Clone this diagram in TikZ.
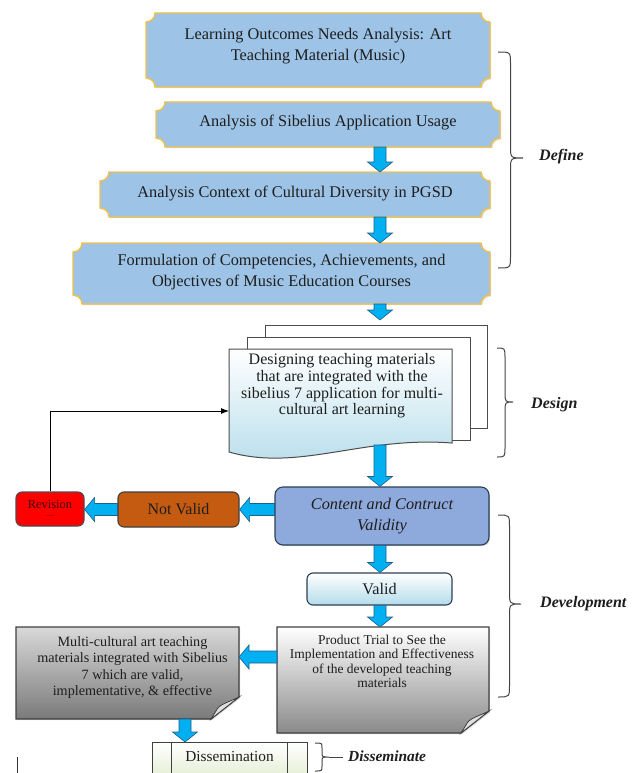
\documentclass[tikz,border=0pt]{standalone}
\usepackage{fontspec}
\setmainfont{Liberation Serif}
\usetikzlibrary{calc,backgrounds,shadows,arrows.meta}

\definecolor{defblue}{HTML}{9DC3E6}
\definecolor{defgold}{HTML}{F3C146}
\definecolor{arrblue}{HTML}{00B0F0}
\definecolor{arredge}{HTML}{1F5F8B}
\definecolor{cvblue}{HTML}{8EA9DB}
\definecolor{cvedge}{HTML}{2E3F55}
\definecolor{nvbrown}{HTML}{C55A11}
\definecolor{revred}{HTML}{FF0000}
\definecolor{lightcyan}{HTML}{B4DCEA}
\definecolor{docgray}{HTML}{8A8A8A}
\definecolor{docgrayB}{HTML}{7A7A7A}
\definecolor{dgreen}{HTML}{D3E3B8}
\definecolor{txt}{HTML}{1E1E1E}
\definecolor{bracegray}{HTML}{454545}

\tikzset{
  sized/.style 2 args={minimum width=#1pt, minimum height=#2pt, inner sep=0pt, outer sep=0pt},
  tbig/.style={font=\fontsize{16.3}{21}\selectfont, text=txt, align=center, inner sep=0pt},
  tdes/.style={font=\fontsize{16}{16.7}\selectfont, text=txt, align=center, inner sep=0pt},
  tprod/.style={font=\fontsize{13.5}{14.4}\selectfont, text=txt, align=center, inner sep=0pt},
  tmulti/.style={font=\fontsize{14.2}{16.4}\selectfont, text=txt, align=center, inner sep=0pt},
  lbl/.style={font=\fontsize{16}{19}\selectfont\bfseries\itshape, text=txt, inner sep=0pt, anchor=west},
  plaq/.style={fill=defblue, draw=defgold, line width=1.4pt,
    drop shadow={shadow xshift=1.2pt, shadow yshift=-1.2pt, opacity=0.3}},
  barrow/.style={fill=arrblue, draw=arredge, line width=0.6pt, line join=miter},
  rbox/.style={draw=cvedge, line width=1.1pt, rounded corners=6pt, text=txt, align=center},
  page/.style={fill=white, draw=black!70, line width=1pt},
  docpath/.style={draw=black!75, line width=1.1pt,
    drop shadow={shadow xshift=1.2pt, shadow yshift=-1.2pt, opacity=0.3}},
  flap/.style={draw=black!75, line width=0.8pt, fill=white!88!black},
  bracest/.style={draw=bracegray, line width=1pt},
  fbline/.style={draw=black, line width=0.9pt, -{Latex[length=8pt,width=6pt]}}
}

\newcommand\plaque[1]{%
  \path[plaq] let \p1=(#1.north west), \p2=(#1.south east) in
    (\x1+9pt,\y1) -- (\x2-9pt,\y1) arc[start angle=180,end angle=270,radius=9pt]
    -- (\x2,\y2+9pt) arc[start angle=90,end angle=180,radius=9pt]
    -- (\x1+9pt,\y2) arc[start angle=0,end angle=90,radius=9pt]
    -- (\x1,\y1-9pt) arc[start angle=270,end angle=360,radius=9pt] -- cycle;}

\newcommand\darr[2]{%
  \path[barrow] let \p1=(#1), \p2=(#2) in
    (\x1-6pt,\y1) -- (\x1-6pt,\y2+10pt) -- (\x1-12.5pt,\y2+10pt) -- (\x1,\y2)
    -- (\x1+12.5pt,\y2+10pt) -- (\x1+6pt,\y2+10pt) -- (\x1+6pt,\y1) -- cycle;}

\newcommand\larr[2]{%
  \path[barrow] let \p1=(#1), \p2=(#2) in
    (\x1,\y1+6pt) -- (\x2+10pt,\y1+6pt) -- (\x2+10pt,\y1+12pt) -- (\x2,\y1)
    -- (\x2+10pt,\y1-12pt) -- (\x2+10pt,\y1-6pt) -- (\x1,\y1-6pt) -- cycle;}

\newcommand\docfold[3]{%
  \path[docpath, top color=#2, bottom color=#3] let \p1=(#1.north west), \p2=(#1.south east) in
    (\x1,\y1) -- (\x2,\y1) -- (\x2,\y2+22pt) -- (\x2-28pt,\y2) -- (\x1,\y2) -- cycle;
  \path[flap] let \p1=(#1.north west), \p2=(#1.south east) in
    (\x2,\y2+22pt) .. controls (\x2-12pt,\y2+16pt) and (\x2-20pt,\y2+15pt) .. (\x2-23pt,\y2+8pt)
    -- (\x2-28pt,\y2) -- cycle;}

\newcommand\wbrace[6]{%
  \draw[bracest] (#1,-#2) .. controls (#1+#5,-#2) .. (#1+#5,-#2-#6)
    -- (#1+#5,-#4+#6) .. controls (#1+#5,-#4) .. (#1+2*#5,-#4)
    .. controls (#1+#5,-#4) .. (#1+#5,-#4-#6)
    -- (#1+#5,-#3+#6) .. controls (#1+#5,-#3) .. (#1,-#3);}

\begin{document}
\begin{tikzpicture}[x=1pt,y=1pt]
\clip (0,0) rectangle (640,-773);

\coordinate (ax) at (380,0);
\coordinate (dx) at (185,0);
\coordinate (pm) at (0,-657);

% geometry nodes
\node[sized={344}{74}] (b1) at (318,-50) {};
\node[sized={344}{45}] (b2) at (328,-124.5) {};
\node[sized={390}{45}] (b3) at (295,-194.5) {};
\node[sized={417}{61}] (b4) at (281.5,-273.5) {};
\node[sized={222}{103}] (pg3) at (376,-376.5) {};
\node[sized={223}{103}] (pg2) at (358.5,-388.5) {};
\node[sized={223}{111}] (design) at (340.5,-404.5) {};
\node[sized={212}{106}] (prod) at (383,-680) {};
\node[sized={223}{92}] (multi) at (127.5,-673) {};
\node[sized={155}{60}] (dissem) at (229.5,-772) {};

\begin{scope}[on background layer]
  \fill[white] (0,0) rectangle (640,-773);
  \plaque{b1}
  \plaque{b2}
  \plaque{b3}
  \plaque{b4}
  \path[page] (pg3.north west) rectangle (pg3.south east);
  \path[page] (pg2.north west) rectangle (pg2.south east);
  \path[draw=black!70, line width=1pt, top color=white, bottom color=lightcyan]
    let \p1=(design.north west), \p2=(design.south east) in
    (\x1,\y1) -- (\x2,\y1) -- (\x2,\y2+17pt)
    .. controls (\x2-90pt,\y2+24pt) and (\x1+70pt,\y2-12pt) .. (\x1,\y2+8pt) -- cycle;
  \docfold{prod}{white}{docgray}
  \docfold{multi}{white!85!black}{docgrayB}
  \path[draw=black!75, line width=1pt, top color=white, bottom color=dgreen]
    (dissem.north west) rectangle (dissem.south east);
  \draw[black!75, line width=0.9pt] ($(dissem.north west)+(19,0)$) -- ($(dissem.south west)+(19,0)$);
  \draw[black!75, line width=0.9pt] ($(dissem.north east)+(-20,0)$) -- ($(dissem.south east)+(-20,0)$);
\end{scope}

% texts of the define boxes
\node[tbig] (b1t) at (318,-46) {Learning Outcomes Needs Analysis: Art\\Teaching Material (Music)};
\node[tbig] (b2t) at (328,-123) {Analysis of Sibelius Application Usage};
\node[tbig] (b3t) at (295,-194) {Analysis Context of Cultural Diversity in PGSD};
\node[tbig] (b4t) at (281.5,-272) {Formulation of Competencies, Achievements, and\\Objectives of Music Education Courses};
\node[tdes] (dtxt) at (342,-386) {Designing teaching materials\\that are integrated with the\\sibelius 7 application for multi-\\cultural art learning};

% validation boxes
\node[rbox, fill=cvblue, minimum width=214pt, minimum height=58pt, rounded corners=8pt,
  font=\fontsize{16.3}{21}\selectfont\itshape,
  drop shadow={shadow xshift=1.2pt, shadow yshift=-1.2pt, opacity=0.3}] (content) at (382,-516)
  {Content and Contruct\\Validity};
\node[rbox, fill=nvbrown, draw=black!75, minimum width=121pt, minimum height=35pt,
  font=\fontsize{16}{19}\selectfont] (notvalid) at (178.5,-509.5) {Not Valid};
\node[rbox, fill=revred, draw=black!70, minimum width=68pt, minimum height=34pt, text=black!75!red,
  inner sep=0pt] (rev) at (50,-509)
  {{\fontsize{12.4}{11}\selectfont Revision}\\[-3pt]{\fontsize{6}{6}\selectfont ----}};
\node[rbox, top color=white, bottom color=lightcyan, minimum width=145pt, minimum height=32pt,
  font=\fontsize{16.2}{19}\selectfont] (valid) at (379.5,-589) {Valid};

\node[tprod] (ptxt) at (382,-661.5) {Product Trial to See the\\Implementation and Effectiveness\\of the developed teaching\\materials};
\node[tmulti] (mtxt) at (132.5,-667.5) {Multi-cultural art teaching\\materials integrated with Sibelius\\7 which are valid,\\implementative, \& effective};
\node[font=\fontsize{15.3}{18}\selectfont, text=txt, inner sep=0pt] (dtext) at (229.5,-756) {Dissemination};

% block arrows
\darr{b2.south -| ax}{b3.north -| ax}
\darr{b3.south -| ax}{b4.north -| ax}
\darr{b4.south -| ax}{$(pg3.north -| ax)+(0,5)$}
\coordinate (dstart) at ($(design.south -| ax)+(0,15)$);
\darr{dstart}{content.north -| ax}
\darr{content.south -| ax}{valid.north -| ax}
\darr{valid.south -| ax}{prod.north -| ax}
\larr{content.west |- notvalid.east}{notvalid.east}
\larr{notvalid.west}{rev.east}
\larr{prod.west |- pm}{multi.east |- pm}
\darr{multi.south -| dx}{dissem.north -| dx}

% feedback line
\coordinate (fbc) at ($(design.west)+(0,-6.5)$);
\draw[fbline] (rev.north) -- (rev.north |- fbc) -- (fbc);

% braces and labels
\wbrace{498}{52}{268}{158}{12.5}{12}
\wbrace{497}{348}{457}{402}{8}{10}
\wbrace{498}{515}{697}{604}{11.5}{12}
\wbrace{315}{743}{771}{757}{7}{5}
\coordinate (dsA) at (329,-757);
\coordinate (dsB) at (343,-757);
\draw[bracest] (dsA) -- (dsB);

\node[lbl] (ldef) at (539,-157) {Define};
\node[lbl] (ldes) at (531,-405) {Design};
\node[lbl] (ldev) at (540,-604) {Development};
\node[lbl, font=\fontsize{15.4}{18}\selectfont\bfseries\itshape] (ldis) at (348,-756) {Disseminate};

% small line at bottom left
\coordinate (sl1) at (17,-757);
\coordinate (sl2) at (17,-775);
\draw[black!80, line width=1pt] (sl1) -- (sl2);
\end{tikzpicture}
\end{document}
